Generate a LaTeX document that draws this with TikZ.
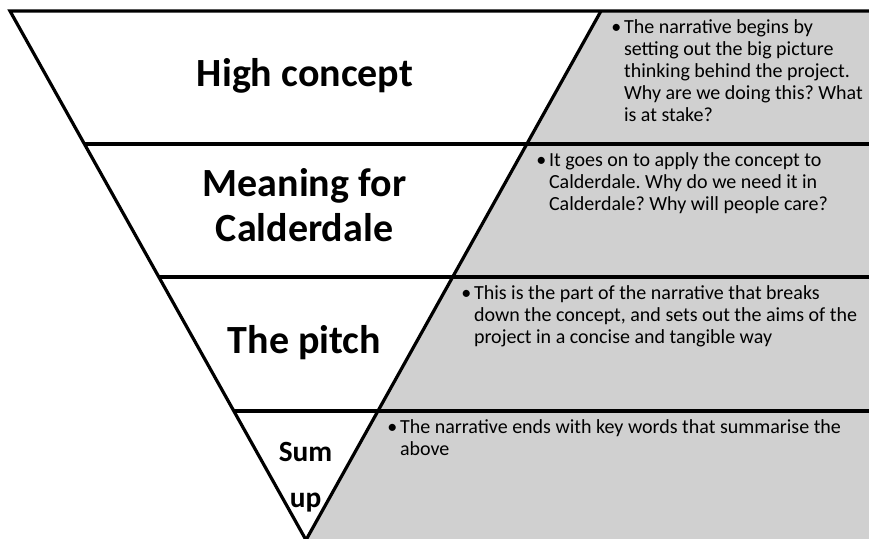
\documentclass[tikz,border=0pt]{standalone}
\usepackage{fontspec}
\setmainfont{Carlito}
\frenchspacing
\definecolor{panelgray}{RGB}{208,208,208}
\newcommand\bulletcol{\textbullet}
\begin{document}
\begin{tikzpicture}[x=0.75pt,y=-0.75pt,
  rule/.style={line width=2.4pt, line join=miter},
  title/.style={anchor=base, inner sep=0pt,
    font=\fontsize{30}{33.75}\selectfont\bfseries},
  smalltitle/.style={anchor=base, inner sep=0pt,
    font=\fontsize{22}{34.7}\selectfont\bfseries},
  note/.style={anchor=base west, inner sep=0pt,
    font=\fontsize{15}{16.5}\selectfont}]
\useasboundingbox (0,0) rectangle (869,539);

% corners of the inverted triangle
\coordinate (tl) at (10,11);
\coordinate (tr) at (601,11);
\coordinate (apex) at (306,540);

% grey panel to the right of the triangle
\fill[panelgray] (tr) -- (869,11) -- (869,540) -- (apex) -- cycle;

% outline and band dividers
\draw[rule] (869,11) -- (tl) -- (apex);
\draw[rule] (tr) -- (apex);
\draw[rule] (84.4,144) -- (869,144);
\draw[rule] (158.8,277) -- (869,277);
\draw[rule] (233.8,411) -- (869,411);

% band titles
\node[title] (t1) at (305,86.7) {High concept};
\node[title] (t2) at (304.5,196.7)
  {\begin{tabular}[t]{@{}c@{}}Meaning for\\Calderdale\end{tabular}};
\node[title] (t3) at (304.5,353) {The pitch};
\node[smalltitle] (t4) at (305.5,461.7)
  {\begin{tabular}[t]{@{}c@{}}Sum\\up\end{tabular}};

% notes in the grey panel
\node[note] (n1) at (611,33.5)
  {\begin{tabular}[t]{@{}p{9.6pt}@{}l@{}}
   \bulletcol & The narrative begins by\\
   & setting out the big picture\\
   & thinking behind the project.\\
   & Why are we doing this? What\\
   & is at stake?
   \end{tabular}};
\node[note] (n2) at (536,166.5)
  {\begin{tabular}[t]{@{}p{9.6pt}@{}l@{}}
   \bulletcol & It goes on to apply the concept to\\
   & Calderdale. Why do we need it in\\
   & Calderdale? Why will people care?
   \end{tabular}};
\node[note] (n3) at (461,299.5)
  {\begin{tabular}[t]{@{}p{9.6pt}@{}l@{}}
   \bulletcol & This is the part of the narrative that breaks\\
   & down the concept, and sets out the aims of the\\
   & project in a concise and tangible way
   \end{tabular}};
\node[note] (n4) at (387,433.5)
  {\begin{tabular}[t]{@{}p{9.6pt}@{}l@{}}
   \bulletcol & The narrative ends with key words that summarise the\\
   & above
   \end{tabular}};
\end{tikzpicture}
\end{document}
